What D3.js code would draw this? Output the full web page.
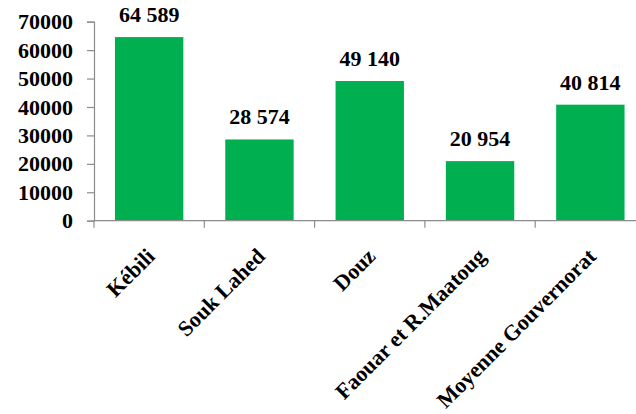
<!DOCTYPE html>
<html><head><meta charset="utf-8">
<script src="https://cdn.jsdelivr.net/npm/d3@7"></script>
<style>
html,body{margin:0;padding:0;background:#fff;}
</style></head>
<body>
<svg id="chart" width="636" height="414"></svg>
<script>
const categories = ["Kébili", "Souk Lahed", "Douz", "Faouar et R.Maatoug", "Moyenne Gouvernorat"];
const values = [64589, 28574, 49140, 20954, 40814];
const valueLabels = ["64 589", "28 574", "49 140", "20 954", "40 814"];
const yTicks = [0, 10000, 20000, 30000, 40000, 50000, 60000, 70000];

const FONT = '"Liberation Serif"';
const svg = d3.select("#chart");
const mLeft = 94, mRight = 645.5, mTop = 21.7, mBottom = 220.7;

const x = d3.scaleBand().domain(categories).range([mLeft, mRight]).paddingInner(0.38).paddingOuter(0.19);
const y = d3.scaleLinear().domain([0, 70000]).range([mBottom, mTop]);
const axisColor = "#8c8c8c";

// bars
svg.selectAll("rect.bar").data(categories).enter().append("rect")
  .attr("class", "bar")
  .attr("x", d => x(d))
  .attr("width", x.bandwidth())
  .attr("y", (d, i) => y(values[i]))
  .attr("height", (d, i) => y(0) - y(values[i]))
  .attr("fill", "#00B050");

// y axis
const yAxis = svg.append("g").attr("transform", `translate(${mLeft},0)`)
  .call(d3.axisLeft(y).tickValues(yTicks).tickSize(7).tickFormat(d3.format("d")).tickPadding(14));
yAxis.select(".domain").attr("stroke", axisColor).attr("stroke-width", 1.2);
yAxis.selectAll(".tick line").attr("stroke", axisColor).attr("stroke-width", 1.2);
yAxis.selectAll(".tick text").attr("fill", "#000")
  .style("font-family", FONT).style("font-weight", "bold").style("font-size", "22px");

// x axis (category boundaries as ticks)
const step = x.step();
const boundaries = d3.range(categories.length + 1).map(i => mLeft + i * step);
svg.append("line").attr("x1", mLeft).attr("x2", mRight).attr("y1", mBottom).attr("y2", mBottom)
  .attr("stroke", axisColor).attr("stroke-width", 1.2);
svg.selectAll("line.xt").data(boundaries).enter().append("line").attr("class", "xt")
  .attr("x1", d => d).attr("x2", d => d).attr("y1", mBottom).attr("y2", mBottom + 7)
  .attr("stroke", axisColor).attr("stroke-width", 1.2);

// category labels
svg.selectAll("text.cat").data(categories).enter().append("text").attr("class", "cat")
  .attr("transform", d => `translate(${x(d) + x.bandwidth() / 2 + 7},${mBottom + 37}) rotate(-45)`)
  .attr("text-anchor", "end")
  .style("font-family", FONT).style("font-weight", "bold").style("font-size", "22px")
  .attr("fill", "#000")
  .text(d => d);

// value labels
svg.selectAll("text.val").data(categories).enter().append("text").attr("class", "val")
  .attr("x", d => x(d) + x.bandwidth() / 2)
  .attr("y", (d, i) => y(values[i]) - 15)
  .attr("text-anchor", "middle")
  .style("font-family", FONT).style("font-weight", "bold").style("font-size", "22px")
  .attr("fill", "#000")
  .text((d, i) => valueLabels[i]);
</script>
</body></html>
